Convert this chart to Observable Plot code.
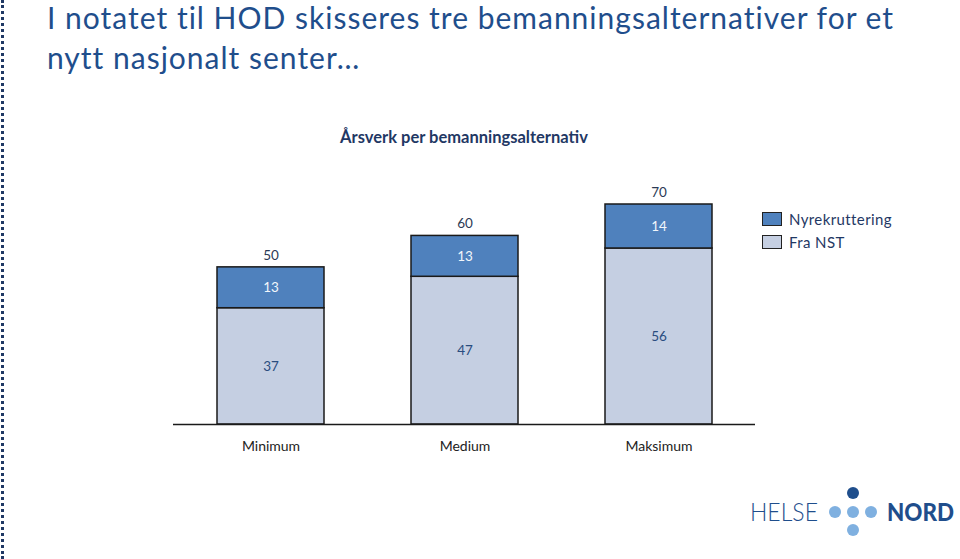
<!DOCTYPE html>
<html>
<head>
<meta charset="utf-8">
<script src="https://cdn.jsdelivr.net/npm/d3@7"></script>
<script src="https://cdn.jsdelivr.net/npm/@observablehq/plot@0.6"></script>
<style>
  html, body { margin: 0; padding: 0; background: #fff; }
  #page { position: relative; width: 960px; height: 559px; overflow: hidden; font-family: Lato, "Open Sans", sans-serif; }
  #border { position: absolute; left: 1px; top: 0; height: 559px; border-left: 3px dotted #1f3864; }
  #title { position: absolute; left: 47px; top: -3px; font-size: 30px; letter-spacing: 1px; line-height: 40px; color: #1f4e8c; white-space: nowrap; }
  #ctitle { position: absolute; left: 0; width: 928px; top: 127px; text-align: center; font-size: 16.5px; font-weight: bold; color: #1f3864; }
  #chart { position: absolute; left: 0; top: 170px; }
  #legend { position: absolute; left: 762px; top: 207.5px; font-size: 15px; letter-spacing: 0.4px; color: #1f3864; }
  .li { display: flex; align-items: center; height: 23px; }
  .sw { width: 18px; height: 12px; border: 1.5px solid #222; margin-right: 7px; }
  #logo { position: absolute; left: 745px; top: 482px; }
</style>
</head>
<body>
<div id="page">
  <div id="border"></div>
  <div id="title">I notatet til HOD skisseres tre bemanningsalternativer for et<br>nytt nasjonalt senter…</div>
  <div id="ctitle">Årsverk per bemanningsalternativ</div>
  <div id="chart"></div>
  <div id="legend"></div>
  <svg id="logo" width="214" height="70">
    <text x="5" y="39" font-family="Lato, sans-serif" font-size="25" font-weight="300" fill="#1f4e8c" textLength="68" lengthAdjust="spacingAndGlyphs">HELSE</text>
    <circle cx="108" cy="11" r="6" fill="#1f4e8c"/>
    <circle cx="90" cy="30" r="6" fill="#7fb0e0"/>
    <circle cx="108" cy="30" r="6" fill="#7fb0e0"/>
    <circle cx="126" cy="30" r="6" fill="#7fb0e0"/>
    <circle cx="108" cy="48" r="6" fill="#7fb0e0"/>
    <text x="142" y="39" font-family="Lato, sans-serif" font-size="24" font-weight="900" fill="#1f4e8c" textLength="67" lengthAdjust="spacingAndGlyphs">NORD</text>
  </svg>
</div>
<script>
const categories = ["Minimum", "Medium", "Maksimum"];
const seriesNames = ["Fra NST", "Nyrekruttering"];
const fraNST = [37, 47, 56];
const nyrekruttering = [13, 13, 14];
const totals = [50, 60, 70];
const seriesColors = ["#c5cfe2", "#4f81bd"];
const labelColors = ["#2a4d7f", "#f2f6fb"];

const rows = [];
categories.forEach((c, i) => {
  rows.push({category: c, series: seriesNames[0], value: fraNST[i]});
  rows.push({category: c, series: seriesNames[1], value: nyrekruttering[i]});
});
const totalRows = categories.map((c, i) => ({category: c, total: totals[i]}));

const chart = Plot.plot({
  width: 960,
  height: 300,
  marginLeft: 173,
  marginRight: 205,
  marginTop: 34,
  marginBottom: 46,
  style: {fontFamily: "Lato, 'Open Sans', sans-serif", fontSize: "13px", color: "#333"},
  x: {domain: categories, paddingInner: 0.45, paddingOuter: 0.225, label: null},
  y: {domain: [0, 70], axis: null},
  color: {domain: seriesNames, range: seriesColors},
  marks: [
    Plot.barY(rows, Plot.stackY({x: "category", y: "value", fill: "series", z: "series", order: seriesNames, stroke: "#1a1a1a", strokeWidth: 1.5})),
    Plot.text(rows, Plot.stackY({x: "category", y: "value", z: "series", order: seriesNames, text: d => String(d.value), fill: d => labelColors[seriesNames.indexOf(d.series)], fontSize: 13.5})),
    Plot.text(totalRows, {x: "category", y: "total", text: d => String(d.total), dy: -12, fill: "#2b3a55", fontSize: 13.5}),
    Plot.ruleY([0], {stroke: "#1a1a1a", strokeWidth: 1.5}),
    Plot.axisX({tickSize: 0, tickPadding: 17, fontSize: 14, fill: "#222", label: null})
  ]
});
document.getElementById("chart").appendChild(chart);

const legend = document.getElementById("legend");
[1, 0].forEach(k => {
  const row = document.createElement("div");
  row.className = "li";
  const sw = document.createElement("div");
  sw.className = "sw";
  sw.style.background = seriesColors[k];
  const t = document.createElement("span");
  t.textContent = seriesNames[k];
  row.appendChild(sw);
  row.appendChild(t);
  legend.appendChild(row);
});
</script>
</body>
</html>
